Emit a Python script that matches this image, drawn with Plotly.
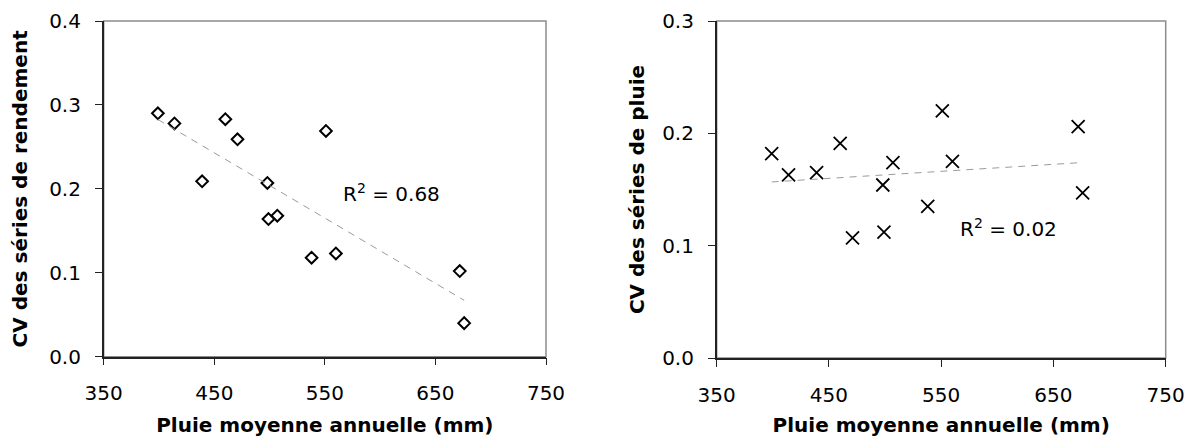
import numpy as np
import plotly.graph_objects as go

# Data
pluie = [399, 414, 439, 460, 471, 498, 499, 507, 538, 551, 560, 672, 676]
cv_rendement = [0.290, 0.278, 0.209, 0.283, 0.259, 0.207, 0.164, 0.168, 0.118, 0.269, 0.123, 0.102, 0.040]
cv_pluie = [0.182, 0.163, 0.165, 0.191, 0.107, 0.154, 0.112, 0.174, 0.135, 0.220, 0.175, 0.206, 0.147]
r2_labels = ["R<sup>2</sup> = 0.68", "R<sup>2</sup> = 0.02"]
x_ticks = [350, 450, 550, 650, 750]
y_ticks_left = [0.0, 0.1, 0.2, 0.3, 0.4]
y_ticks_right = [0.0, 0.1, 0.2, 0.3]

FONT = "DejaVu Sans"
PAGE_OFF = 8  # default body margin of the html page
W, H = 1197 - 2 * PAGE_OFF, 445 - 2 * PAGE_OFF


def xdom(a, b):
    return [(a - PAGE_OFF) / W, (b - PAGE_OFF) / W]


def ydom(top, bottom):
    return [(H - (bottom - PAGE_OFF)) / H, (H - (top - PAGE_OFF)) / H]


def trend(x, y):
    x = np.array(x, float)
    y = np.array(y, float)
    a, b = np.polyfit(x, y, 1)
    xs = np.array([x.min(), x.max()])
    return xs, a * xs + b


fig = go.Figure()

fig.add_trace(go.Scatter(
    x=pluie, y=cv_rendement, mode="markers", xaxis="x", yaxis="y",
    marker=dict(symbol="diamond-open", size=9, color="black", line=dict(width=2, color="black")),
    showlegend=False))
tx, ty = trend(pluie, cv_rendement)
fig.add_trace(go.Scatter(
    x=tx, y=ty, mode="lines", xaxis="x", yaxis="y",
    line=dict(color="#9a9a9a", width=1, dash="7px,6px"), showlegend=False))

fig.add_trace(go.Scatter(
    x=pluie, y=cv_pluie, mode="markers", xaxis="x2", yaxis="y2",
    marker=dict(symbol="x-thin-open", size=13, color="black", line=dict(width=1.8, color="black")),
    showlegend=False))
tx2, ty2 = trend(pluie, cv_pluie)
fig.add_trace(go.Scatter(
    x=tx2, y=ty2, mode="lines", xaxis="x2", yaxis="y2",
    line=dict(color="#9a9a9a", width=1, dash="7px,6px"), showlegend=False))

axis_common = dict(
    showgrid=False, zeroline=False, showline=True, linecolor="#222222", linewidth=1.5,
    ticks="outside", ticklen=7, tickwidth=1.2, tickcolor="#222222", automargin=False,
    tickfont=dict(family=FONT, size=20, color="black"), mirror=False,
)
title_font = dict(family=FONT, size=20, color="black", weight="bold")

fig.update_layout(
    width=W, height=H, margin=dict(l=0, r=0, t=0, b=0, autoexpand=False),
    paper_bgcolor="white", plot_bgcolor="white",
    xaxis=dict(axis_common, domain=xdom(103.7, 546), range=[350, 750], tickvals=x_ticks,
               anchor="y", ticklabelstandoff=11,
               title=dict(text="Pluie moyenne annuelle (mm)", font=title_font, standoff=20)),
    yaxis=dict(axis_common, domain=ydom(21, 356.7), range=[0, 0.4], tickvals=y_ticks_left,
               tickformat=".1f", anchor="x", ticklabelstandoff=10,
               title=dict(text="CV des séries de rendement", font=title_font, standoff=17)),
    xaxis2=dict(axis_common, domain=xdom(716.7, 1165.7), range=[350, 750], tickvals=x_ticks,
                anchor="y2", ticklabelstandoff=11,
                title=dict(text="Pluie moyenne annuelle (mm)", font=title_font, standoff=20)),
    yaxis2=dict(axis_common, domain=ydom(21, 358), range=[0, 0.3], tickvals=y_ticks_right,
                tickformat=".1f", anchor="x2", ticklabelstandoff=10,
                title=dict(text="CV des séries de pluie", font=title_font, standoff=12)),
)

for xr, yr in [("x", "y"), ("x2", "y2")]:
    fig.add_shape(type="rect", xref=f"{xr} domain", yref=f"{yr} domain", x0=0, x1=1, y0=0, y1=1,
                  line=dict(color="#8c8c8c", width=1.5), layer="below")

fig.add_annotation(x=565, y=0.195, xref="x", yref="y", text=r2_labels[0], showarrow=False,
                   xanchor="left", yanchor="middle", font=dict(family=FONT, size=20, color="black"))
fig.add_annotation(x=565, y=0.116, xref="x2", yref="y2", text=r2_labels[1], showarrow=False,
                   xanchor="left", yanchor="middle", font=dict(family=FONT, size=20, color="black"))

fig.write_html("out.html")
